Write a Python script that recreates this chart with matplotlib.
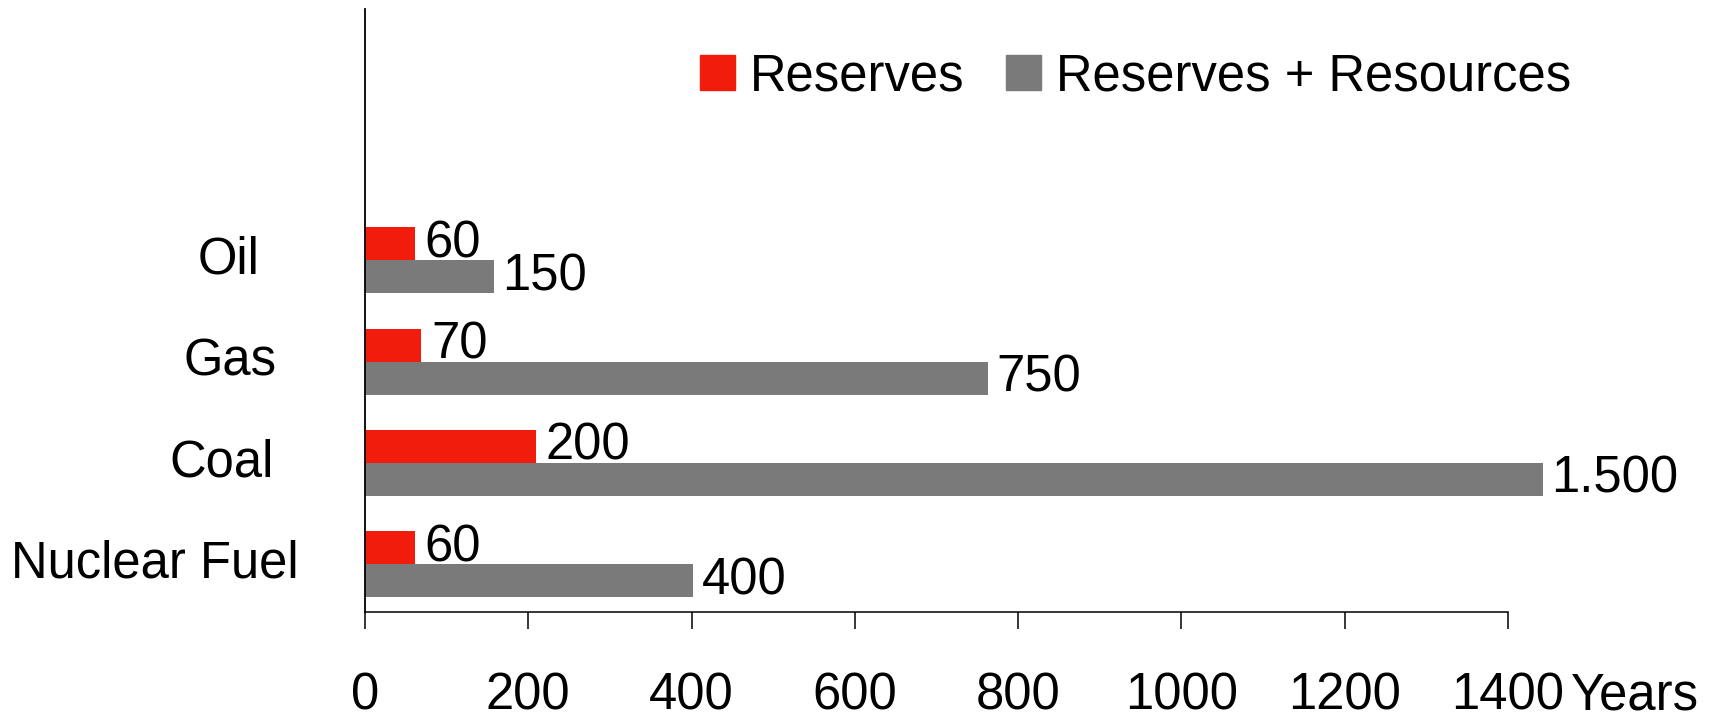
import matplotlib
matplotlib.use('Agg')
import matplotlib.pyplot as plt
from matplotlib.patches import Patch

plt.rcParams['font.family'] = ['Liberation Sans', 'DejaVu Sans']

# data (top to bottom as shown)
categories = ['Oil', 'Gas', 'Coal', 'Nuclear Fuel']
reserves = [61, 69, 209, 61]
reserves_resources = [158, 763, 1443, 402]
reserves_labels = ['60', '70', '200', '60']
resources_labels = ['150', '750', '1.500', '400']
xticks = [0, 200, 400, 600, 800, 1000, 1200, 1400]

red = '#f11c0c'
grey = '#7a7a7a'
fs = 36.5

fig = plt.figure(figsize=(17.22, 7.19), dpi=100)
ax = fig.add_axes([365/1722, 1 - 612/719, 1143/1722, 603/719])

ypos = list(range(len(categories)))[::-1]  # Oil at top
h = 0.326
ax.barh([y + h/2 for y in ypos], reserves, height=h, color=red,
        label='Reserves', clip_on=False)
ax.barh([y - h/2 for y in ypos], reserves_resources, height=h, color=grey,
        label='Reserves + Resources', clip_on=False)

for y, v, t in zip(ypos, reserves, reserves_labels):
    ax.annotate(t, (v, y + h/2), xytext=(7, 0), textcoords='offset points',
                va='center', ha='left', fontsize=fs, annotation_clip=False)
for y, v, t in zip(ypos, reserves_resources, resources_labels):
    ax.annotate(t, (v, y - h/2), xytext=(6, 0), textcoords='offset points',
                va='center', ha='left', fontsize=fs, annotation_clip=False)

ax.set_xlim(0, 1400)
ax.set_ylim(-0.474, 5.484)
ax.set_xticks(xticks)
ax.set_xticklabels([str(x) for x in xticks], fontsize=fs)
ax.tick_params(axis='x', direction='out', length=12, width=1.1, pad=31)
ax.set_yticks([])

# category labels, placed by hand like in the original
label_x = [-0.092, -0.077, -0.080, -0.058]
for y, name, lx in zip(ypos, categories, label_x):
    ax.text(lx, y, name, transform=ax.get_yaxis_transform(), ha='right',
            va='center', fontsize=fs)

ax.annotate('Years', xy=(1400, 0), xycoords=('data', 'axes fraction'),
            xytext=(45, -43), textcoords='offset points', ha='left', va='top',
            fontsize=fs, annotation_clip=False)

for s in ['top', 'right']:
    ax.spines[s].set_visible(False)
ax.spines['left'].set_linewidth(1.3)
ax.spines['bottom'].set_linewidth(1.1)

handles = [Patch(color=red, label='Reserves'),
           Patch(color=grey, label='Reserves + Resources')]
fig.legend(handles=handles, loc='center left', bbox_to_anchor=(700/1722, 1 - 77/719),
           ncol=2, frameon=False, fontsize=fs, borderpad=0, borderaxespad=0,
           handlelength=0.69, handleheight=0.68, handletextpad=0.3,
           columnspacing=0.81)

fig.savefig('out.png', dpi=100)
